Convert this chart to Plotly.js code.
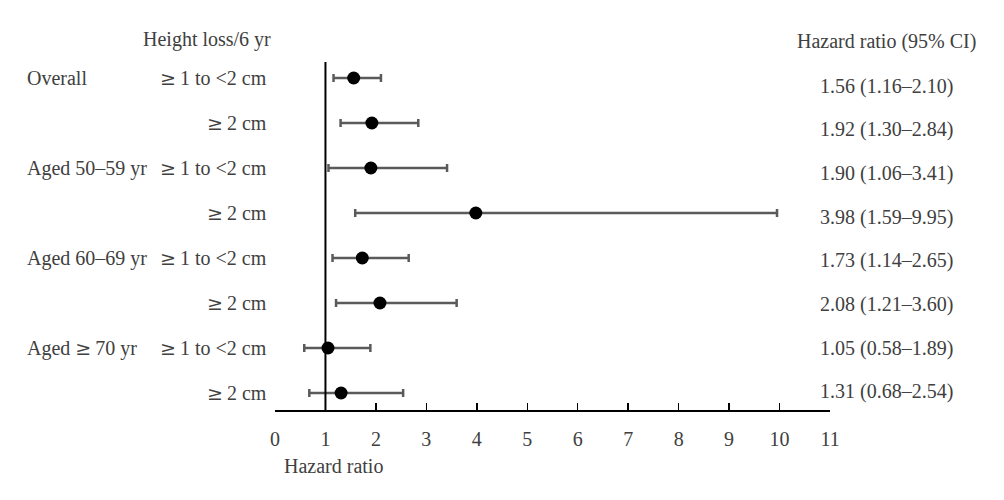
<!DOCTYPE html>
<html><head><meta charset="utf-8">
<script src="https://cdn.plot.ly/plotly-3.0.1.min.js"></script>
<style>html,body{margin:0;padding:0;background:#fff}#chart{width:1004px;height:500px}</style>
</head><body><div id="chart"></div>
<script>
const groups = ["Overall", "", "Aged 50\u201359 yr", "", "Aged 60\u201369 yr", "", "Aged \u226570 yr", ""];
const subgroups = ["\u22651 to <2 cm", "\u22652 cm", "\u22651 to <2 cm", "\u22652 cm", "\u22651 to <2 cm", "\u22652 cm", "\u22651 to <2 cm", "\u22652 cm"];
const hr = [1.56, 1.92, 1.90, 3.98, 1.73, 2.08, 1.05, 1.31];
const lower = [1.16, 1.30, 1.06, 1.59, 1.14, 1.21, 0.58, 0.68];
const upper = [2.10, 2.84, 3.41, 9.95, 2.65, 3.60, 1.89, 2.54];
const xTicks = [0,1,2,3,4,5,6,7,8,9,10,11];

const rows = hr.map((_, i) => i);
const fmt = v => v.toFixed(2);
const ciText = hr.map((v, i) => `${fmt(v)} (${fmt(lower[i])}\u2013${fmt(upper[i])})`);
const sym = s => s.replace(/</g, "&lt;").replace(/\u2265/g, "<span style=\"font-family:'DejaVu Serif';font-size:19px\">\u2265</span>\u2009");

const font = {family: "Liberation Serif", size: 20, color: "#404040"};

const trace = {
  x: hr, y: rows, type: "scatter", mode: "markers",
  marker: {color: "#000", size: 13},
  error_x: {
    type: "data", symmetric: false,
    array: hr.map((v, i) => upper[i] - v),
    arrayminus: hr.map((v, i) => v - lower[i]),
    color: "#5a5a5a", thickness: 2.5, width: 4
  },
  hoverinfo: "skip", showlegend: false
};

const W = 555, H = 348, L = 275, T = 62;
const px = x => (x - L) / W;
const py = y => (T + H - y) / H;

const annotations = [];
rows.forEach(i => {
  if (groups[i]) annotations.push({xref: "paper", yref: "y", x: px(25), y: i, xanchor: "left", yanchor: "middle", text: sym(groups[i]), showarrow: false, font});
  annotations.push({xref: "paper", yref: "y", x: px(269), y: i, xanchor: "right", yanchor: "middle", text: sym(subgroups[i]), showarrow: false, font});
  annotations.push({xref: "paper", yref: "y", x: px(886), y: i + 0.178 - 0.029 * i, xanchor: "center", yanchor: "middle", text: ciText[i], showarrow: false, font});
});
annotations.push({xref: "paper", yref: "paper", x: px(207), y: py(40), xanchor: "center", yanchor: "middle", text: "Height loss/6 yr", showarrow: false, font});
annotations.push({xref: "paper", yref: "paper", x: px(886), y: py(42), xanchor: "center", yanchor: "middle", text: "Hazard ratio (95% CI)", showarrow: false, font});
annotations.push({xref: "paper", yref: "paper", x: px(282), y: py(466), xanchor: "left", yanchor: "middle", text: "Hazard ratio", showarrow: false, font});

const layout = {
  width: 1004, height: 500,
  margin: {l: L, r: 1004 - L - W, t: T, b: 500 - T - H},
  paper_bgcolor: "#fff", plot_bgcolor: "#fff",
  font,
  xaxis: {
    range: [0, 11], tickvals: xTicks, ticktext: xTicks.map(String),
    showgrid: false, zeroline: false, showline: true, linecolor: "#000", linewidth: 1.5,
    ticks: "inside", ticklen: 7, tickwidth: 1.5, tickcolor: "#000",
    ticklabelstandoff: 10,
    tickfont: font, fixedrange: true
  },
  yaxis: {
    range: [7.378, -0.356], showgrid: false, zeroline: false, showline: false,
    showticklabels: false, ticks: "", fixedrange: true
  },
  shapes: [{type: "line", xref: "x", yref: "paper", x0: 1, x1: 1, y0: 0, y1: 1, line: {color: "#000", width: 2}}],
  annotations
};

Plotly.newPlot("chart", [trace], layout, {displayModeBar: false, staticPlot: true});
</script></body></html>
